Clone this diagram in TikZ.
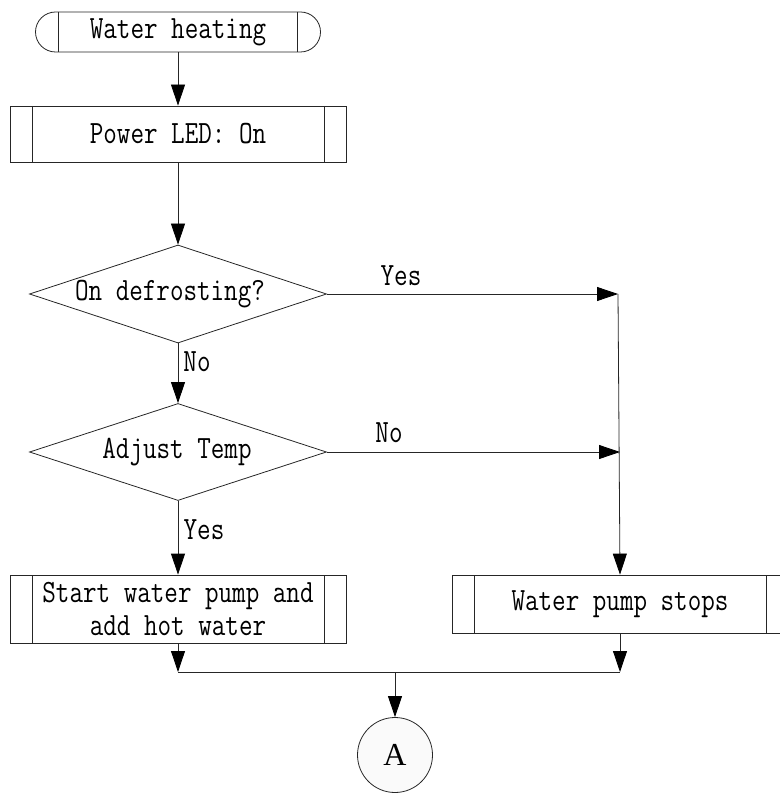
\documentclass[tikz,border=0pt]{standalone}
\usepackage{fontspec}
\newfontfamily\flowfont{Latin Modern Mono}[FakeStretch=0.81]
\newfontfamily\connfont{Liberation Serif}
\usetikzlibrary{shapes.geometric,shapes.misc,arrows.meta}
\begin{document}
\begin{tikzpicture}[x=1pt,y=-1pt,
  font=\flowfont\fontsize{32.5}{33}\selectfont,
  line/.style={draw=black!85, line width=0.8pt},
  flow/.style={line, -{Triangle[length=21pt,width=14pt,fill=black,color=black]}},
  edges/.style={path picture={
      \draw[line width=0.8pt,black!85]
        ([xshift=#1]path picture bounding box.north west) -- ([xshift=#1]path picture bounding box.south west)
        ([xshift=-#1]path picture bounding box.north east) -- ([xshift=-#1]path picture bounding box.south east);}},
  subbox/.style={draw=black!85, line width=0.8pt, rectangle, inner sep=0pt, align=center, edges=22pt},
  termbox/.style={draw=black!85, line width=0.8pt, rounded rectangle, inner sep=0pt, edges=23pt},
  decision/.style={draw=black!85, line width=0.8pt, diamond, inner sep=0pt},
  plain/.style={inner sep=0pt},
  connector/.style={draw=black!85, line width=0.8pt, circle, fill=gray!4, inner sep=0pt,
    minimum size=75pt, font=\connfont\fontsize{32}{34}\selectfont}
]
\useasboundingbox (0,0) rectangle (779,794);

% boxes
\node[termbox, minimum width=285pt, minimum height=40pt] (start) at (178,32) {Water heating};
\node[subbox, minimum width=336pt, minimum height=56pt] (led) at (178,134) {Power LED: On};
\node[decision, minimum width=297pt, minimum height=98pt] (d1) at (178,294) {};
\node[plain] (d1t) at (170,294) {On defrosting?};
\node[decision, minimum width=297pt, minimum height=97pt] (d2) at (178,452) {};
\node[plain] (d2t) at (177,452) {Adjust Temp};
\node[subbox, minimum width=336pt, minimum height=68pt] (pump) at (178,609) {Start water pump and\\add hot water};
\node[subbox, minimum width=336pt, minimum height=58pt] (stop) at (620,604) {Water pump stops};
\node[connector] (A) at (395,755) {A};

% junction points
\coordinate (j1) at (618,294);
\coordinate (j2) at (620,452);
\coordinate (m1) at (178,672);
\coordinate (m2) at (620,672);
\coordinate (m) at (395,672);

% connectors
\draw[flow] (start.south) -- (led.north);
\draw[flow] (led.south) -- (d1.north);
\draw[flow] (d1.south) -- (d2.north);
\draw[flow] (d1.east) -- (j1);
\draw[flow] (d2.east) -- (j2);
\draw[flow] (j1) -- (stop.north);
\draw[flow] (d2.south) -- (pump.north);
\draw[flow] (pump.south) -- (m1);
\draw[flow] (stop.south) -- (m2);
\draw[line] (m1) -- (m2);
\draw[flow] (m) -- (A.north);

% branch labels
\node[plain] (lyes1) at (401,276) {Yes};
\node[plain] (lno1) at (197,362) {No};
\node[plain] (lno2) at (389,433) {No};
\node[plain] (lyes2) at (204,530) {Yes};
\end{tikzpicture}
\end{document}
